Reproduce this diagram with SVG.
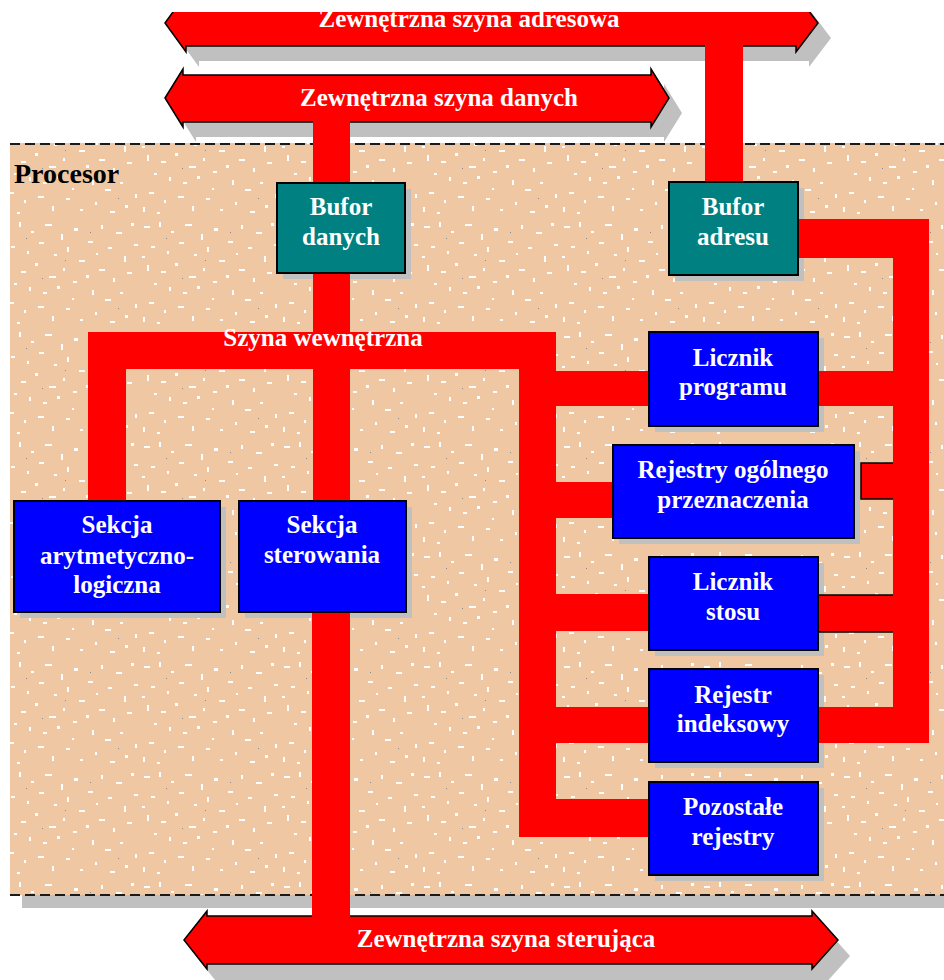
<svg xmlns="http://www.w3.org/2000/svg" width="944" height="980" viewBox="0 0 944 980">
<defs>
<pattern id="tex" x="0" y="0" width="140" height="110" patternUnits="userSpaceOnUse">
<rect width="140" height="110" fill="#EFC8A3"/>
<g fill="#FFFFFF">
<rect x="4" y="6" width="6" height="2"/><rect x="19" y="2" width="2" height="5"/><rect x="31" y="11" width="3" height="2"/>
<rect x="45" y="4" width="7" height="2"/><rect x="61" y="14" width="2" height="6"/><rect x="74" y="8" width="4" height="3"/>
<rect x="88" y="21" width="5" height="2"/><rect x="101" y="5" width="2" height="4"/><rect x="116" y="12" width="6" height="2"/>
<rect x="131" y="3" width="3" height="3"/><rect x="11" y="26" width="4" height="2"/><rect x="27" y="31" width="2" height="3"/>
<rect x="39" y="22" width="5" height="2"/><rect x="54" y="34" width="3" height="2"/><rect x="67" y="27" width="2" height="5"/>
<rect x="79" y="40" width="6" height="2"/><rect x="96" y="33" width="2" height="2"/><rect x="108" y="27" width="4" height="2"/>
<rect x="124" y="36" width="2" height="6"/><rect x="134" y="24" width="4" height="2"/><rect x="7" y="45" width="2" height="6"/>
<rect x="21" y="51" width="5" height="2"/><rect x="35" y="43" width="3" height="3"/><rect x="49" y="56" width="7" height="2"/>
<rect x="63" y="48" width="2" height="3"/><rect x="73" y="61" width="4" height="2"/><rect x="86" y="55" width="3" height="3"/>
<rect x="99" y="49" width="6" height="2"/><rect x="113" y="58" width="2" height="4"/><rect x="127" y="52" width="5" height="2"/>
<rect x="14" y="63" width="3" height="2"/><rect x="29" y="67" width="2" height="4"/><rect x="43" y="72" width="4" height="2"/>
<rect x="57" y="66" width="3" height="3"/><rect x="2" y="36" width="3" height="2"/><rect x="92" y="70" width="2" height="5"/>
<rect x="105" y="79" width="6" height="2"/><rect x="120" y="72" width="3" height="2"/><rect x="135" y="84" width="2" height="4"/>
<rect x="9" y="82" width="5" height="2"/><rect x="24" y="90" width="2" height="3"/><rect x="38" y="86" width="6" height="2"/>
<rect x="52" y="96" width="2" height="5"/><rect x="66" y="88" width="4" height="2"/><rect x="80" y="99" width="3" height="2"/>
<rect x="95" y="92" width="2" height="3"/><rect x="110" y="101" width="5" height="2"/><rect x="125" y="95" width="3" height="3"/>
<rect x="17" y="102" width="3" height="2"/><rect x="72" y="78" width="2" height="2"/><rect x="3" y="97" width="2" height="5"/>
</g>
<g fill="#8A8A8A"><rect x="26" y="18" width="1" height="1"/><rect x="65" y="40" width="1" height="1"/><rect x="42" y="58" width="1" height="1"/><rect x="118" y="88" width="1" height="1"/><rect x="90" y="12" width="1" height="1"/></g>
</pattern>
<clipPath id="topclip"><rect x="0" y="12" width="944" height="968"/></clipPath>
</defs>
<style>
.bus{fill:#FF0000;stroke:#000;stroke-width:1.5}
.shadow{fill:#C0C0C0}
.wire{fill:#FF0000}
.teal{fill:#008080;stroke:#000;stroke-width:2}
.blue{fill:#0000FF;stroke:#000;stroke-width:2}
.lbl{font-family:"Liberation Serif","Times New Roman",serif;font-weight:bold;font-size:25px;fill:#FFFFFF;text-anchor:middle}
.dash{stroke:#1A1A1A;stroke-width:2;stroke-dasharray:10 5;fill:none}
</style>
<rect width="944" height="980" fill="#FFFFFF"/>

<!-- external address bus -->
<g id="address-bus">
<g clip-path="url(#topclip)">
<polygon class="shadow" transform="translate(13,15)" points="165,23 186,-6 186,0 796,0 796,-6 818,23 796,52 796,46 186,46 186,52"/>
<polygon class="bus" points="165,23 186,-6 186,0 796,0 796,-6 818,23 796,52 796,46 186,46 186,52"/>
</g>
<text class="lbl" x="469" y="27">Zewnętrzna szyna adresowa</text>
</g>

<!-- external data bus -->
<g id="data-bus">
<polygon class="shadow" transform="translate(13,15)" points="165,98 183,69 183,75 651,75 651,69 669,98 651,127 651,122 183,122 183,127"/>
<polygon class="bus" points="165,98 183,69 183,75 651,75 651,69 669,98 651,127 651,122 183,122 183,127"/>
<text class="lbl" x="439" y="106">Zewnętrzna szyna danych</text>
</g>

<!-- processor area -->
<g id="procesor">
<rect class="shadow" x="22" y="895" width="940" height="13"/>
<rect x="10" y="143" width="950" height="752" fill="url(#tex)"/>
<line class="dash" x1="10" y1="144" x2="944" y2="144"/>
<line class="dash" x1="10" y1="895" x2="944" y2="895"/>
<text x="14" y="183" style="font-family:'Liberation Serif','Times New Roman',serif;font-weight:bold;font-size:28px;fill:#000">Procesor</text>
</g>

<!-- external control bus -->
<g id="control-bus">
<polygon class="shadow" transform="translate(12,16)" points="184,940 207,911 207,916 812,916 812,911 838,940 812,969 812,964 207,964 207,969"/>
<polygon class="bus" points="184,940 207,911 207,916 812,916 812,911 838,940 812,969 812,964 207,964 207,969"/>
<text class="lbl" x="506" y="947">Zewnętrzna szyna sterująca</text>
</g>

<!-- node shadows -->
<g id="shadows" class="shadow">
<rect x="283" y="189" width="128" height="90"/>
<rect x="675" y="188" width="129" height="93"/>
<rect x="655" y="338" width="169" height="94"/>
<rect x="619" y="451" width="241" height="93"/>
<rect x="655" y="563" width="169" height="93"/>
<rect x="655" y="675" width="169" height="93"/>
<rect x="655" y="788" width="169" height="93"/>
<rect x="20" y="507" width="206" height="111"/>
<rect x="245" y="507" width="167" height="111"/>
</g>

<!-- connectors -->
<g id="connectors">
<rect class="wire" x="705" y="40" width="38" height="143"/>
<rect class="wire" x="313" y="118" width="37" height="66"/>
<rect class="wire" x="313" y="274" width="37" height="228"/>
<rect class="wire" x="312" y="611" width="38" height="310"/>
<rect class="wire" x="88" y="332" width="468" height="37"/>
<rect class="wire" x="88" y="332" width="38" height="170"/>
<text class="lbl" x="323" y="346">Szyna wewnętrzna</text>
<rect class="wire" x="519" y="332" width="37" height="505"/>
<rect class="wire" x="556" y="371" width="94" height="35"/>
<rect class="wire" x="556" y="482" width="58" height="36"/>
<rect class="wire" x="556" y="594" width="94" height="37"/>
<rect class="wire" x="556" y="707" width="94" height="36"/>
<rect class="wire" x="556" y="799" width="94" height="38"/>
<rect class="wire" x="797" y="219" width="132" height="39"/>
<rect class="wire" x="893" y="219" width="36" height="524"/>
<rect class="wire" x="817" y="371" width="77" height="35"/>
<rect class="wire" x="817" y="595" width="77" height="37"/>
<line x1="818" y1="595" x2="893" y2="595" stroke="#000" stroke-width="1.5"/>
<line x1="818" y1="632" x2="893" y2="632" stroke="#000" stroke-width="1.5"/>
<rect class="wire" x="817" y="707" width="112" height="36"/>
<path d="M893,463 H861 V499 H893" fill="#FF0000" stroke="#000" stroke-width="1.5"/>
</g>

<!-- nodes -->
<g id="bufor-danych">
<rect class="teal" x="277" y="183" width="128" height="90"/>
<text class="lbl" x="341" y="215">Bufor</text>
<text class="lbl" x="341" y="245">danych</text>
</g>
<g id="bufor-adresu">
<rect class="teal" x="669" y="182" width="129" height="93"/>
<text class="lbl" x="733" y="215">Bufor</text>
<text class="lbl" x="733" y="245">adresu</text>
</g>
<g id="licznik-programu">
<rect class="blue" x="649" y="332" width="169" height="94"/>
<text class="lbl" x="733" y="366">Licznik</text>
<text class="lbl" x="733" y="395">programu</text>
</g>
<g id="rejestry-ogolnego">
<rect class="blue" x="613" y="445" width="241" height="93"/>
<text class="lbl" x="733" y="478">Rejestry ogólnego</text>
<text class="lbl" x="733" y="508">przeznaczenia</text>
</g>
<g id="licznik-stosu">
<rect class="blue" x="649" y="557" width="169" height="93"/>
<text class="lbl" x="733" y="590">Licznik</text>
<text class="lbl" x="733" y="620">stosu</text>
</g>
<g id="rejestr-indeksowy">
<rect class="blue" x="649" y="669" width="169" height="93"/>
<text class="lbl" x="733" y="703">Rejestr</text>
<text class="lbl" x="733" y="732">indeksowy</text>
</g>
<g id="pozostale-rejestry">
<rect class="blue" x="649" y="782" width="169" height="93"/>
<text class="lbl" x="733" y="815">Pozostałe</text>
<text class="lbl" x="733" y="845">rejestry</text>
</g>
<g id="sekcja-alu">
<rect class="blue" x="14" y="501" width="206" height="111"/>
<text class="lbl" x="117" y="533">Sekcja</text>
<text class="lbl" x="117" y="564">arytmetyczno-</text>
<text class="lbl" x="117" y="593">logiczna</text>
</g>
<g id="sekcja-sterowania">
<rect class="blue" x="239" y="501" width="167" height="111"/>
<text class="lbl" x="322" y="533">Sekcja</text>
<text class="lbl" x="322" y="563">sterowania</text>
</g>
</svg>
